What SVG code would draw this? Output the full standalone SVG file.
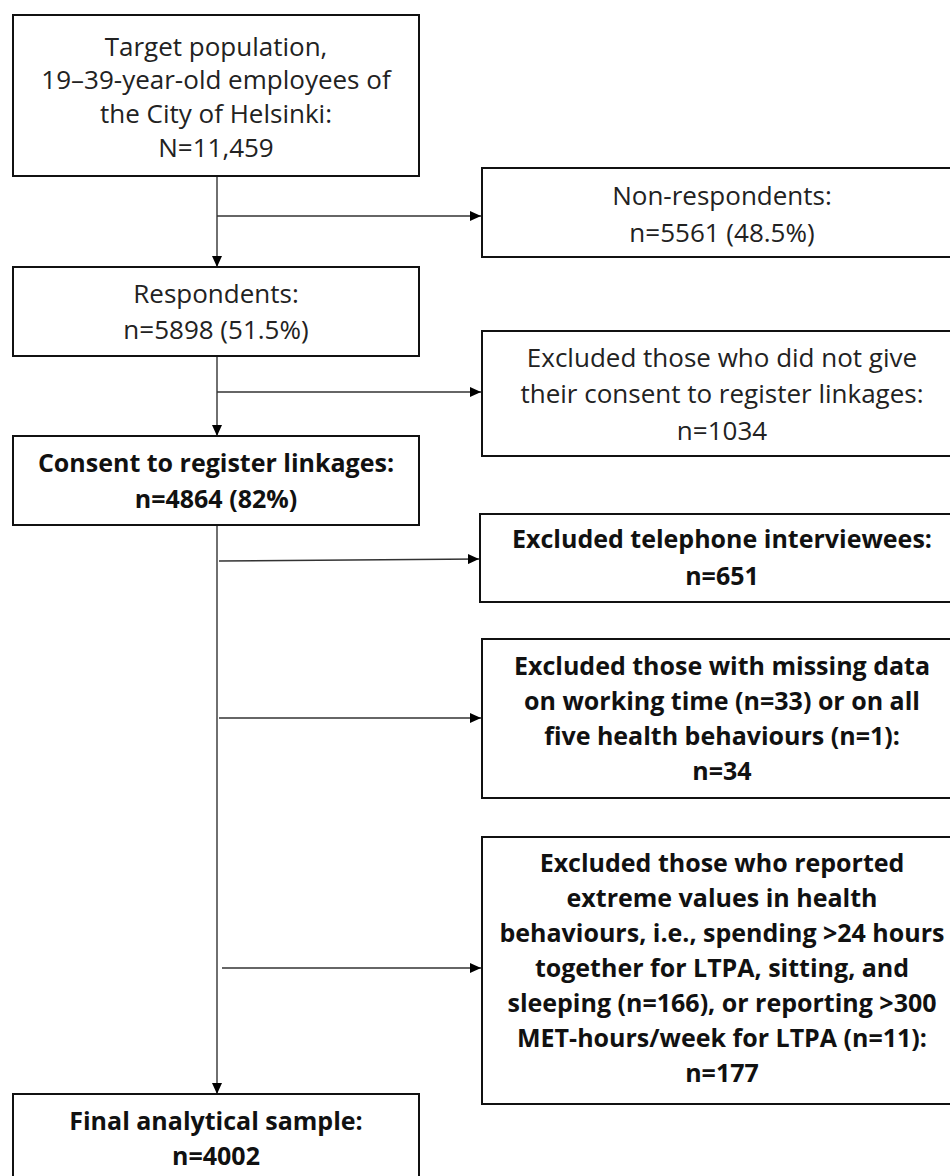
<svg xmlns="http://www.w3.org/2000/svg" width="950" height="1176" viewBox="0 0 950 1176">
<style>
.box{fill:#fff;stroke:#111;stroke-width:2}
.t{font-family:"Open Sans","Noto Sans","DejaVu Sans",sans-serif;font-size:26px;fill:#222;text-anchor:middle}
.b{font-family:"Open Sans","Noto Sans","DejaVu Sans",sans-serif;font-size:25px;font-weight:bold;fill:#111;text-anchor:middle}
.c{fill:none;stroke:#333;stroke-width:1.4}
</style>
<defs>
<marker id="ah" markerUnits="userSpaceOnUse" markerWidth="11" markerHeight="10" refX="11" refY="5" orient="auto">
<path d="M0,0 L11,5 L0,10 z" fill="#000"/>
</marker>
</defs>
<rect width="950" height="1176" fill="#fff"/>
<g id="connectors">
<line class="c" x1="217" y1="176" x2="217" y2="267" marker-end="url(#ah)"/>
<line class="c" x1="217" y1="216" x2="481" y2="216" marker-end="url(#ah)"/>
<line class="c" x1="217" y1="356" x2="217" y2="436" marker-end="url(#ah)"/>
<line class="c" x1="217" y1="392" x2="481" y2="392" marker-end="url(#ah)"/>
<line class="c" x1="217" y1="525" x2="217" y2="1094" marker-end="url(#ah)"/>
<line class="c" x1="219" y1="561" x2="479" y2="559" marker-end="url(#ah)"/>
<line class="c" x1="219" y1="718" x2="481" y2="718" marker-end="url(#ah)"/>
<line class="c" x1="222" y1="968" x2="481" y2="968" marker-end="url(#ah)"/>
</g>
<g id="target">
<rect class="box" x="13" y="15" width="406" height="161"/>
<text class="t" x="216" y="56">Target population,</text>
<text class="t" x="216" y="89">19–39-year-old employees of</text>
<text class="t" x="216" y="123">the City of Helsinki:</text>
<text class="t" x="216" y="157">N=11,459</text>
</g>
<g id="nonrespondents">
<rect class="box" x="482" y="168" width="480" height="89"/>
<text class="t" x="722" y="205">Non-respondents:</text>
<text class="t" x="722" y="242">n=5561 (48.5%)</text>
</g>
<g id="respondents">
<rect class="box" x="13" y="267" width="406" height="89"/>
<text class="t" x="216" y="303">Respondents:</text>
<text class="t" x="216" y="339">n=5898 (51.5%)</text>
</g>
<g id="noconsent">
<rect class="box" x="482" y="331" width="480" height="125"/>
<text class="t" x="722" y="367">Excluded those who did not give</text>
<text class="t" x="722" y="403">their consent to register linkages:</text>
<text class="t" x="722" y="440">n=1034</text>
</g>
<g id="consent">
<rect class="box" x="13" y="436" width="406" height="89"/>
<text class="b" x="216" y="472">Consent to register linkages:</text>
<text class="b" x="216" y="508">n=4864 (82%)</text>
</g>
<g id="telephone">
<rect class="box" x="480" y="514" width="482" height="88"/>
<text class="b" x="722" y="548">Excluded telephone interviewees:</text>
<text class="b" x="722" y="585">n=651</text>
</g>
<g id="missing">
<rect class="box" x="482" y="639" width="480" height="159"/>
<text class="b" x="722" y="675">Excluded those with missing data</text>
<text class="b" x="722" y="710">on working time (n=33) or on all</text>
<text class="b" x="722" y="745">five health behaviours (n=1):</text>
<text class="b" x="722" y="780">n=34</text>
</g>
<g id="extreme">
<rect class="box" x="482" y="837" width="480" height="267"/>
<text class="b" x="722" y="872">Excluded those who reported</text>
<text class="b" x="722" y="907">extreme values in health</text>
<text class="b" x="722" y="942">behaviours, i.e., spending &gt;24 hours</text>
<text class="b" x="722" y="977">together for LTPA, sitting, and</text>
<text class="b" x="722" y="1012">sleeping (n=166), or reporting &gt;300</text>
<text class="b" x="722" y="1047">MET-hours/week for LTPA (n=11):</text>
<text class="b" x="722" y="1082">n=177</text>
</g>
<g id="final">
<rect class="box" x="13" y="1094" width="406" height="100"/>
<text class="b" x="216" y="1130">Final analytical sample:</text>
<text class="b" x="216" y="1165">n=4002</text>
</g>
</svg>
